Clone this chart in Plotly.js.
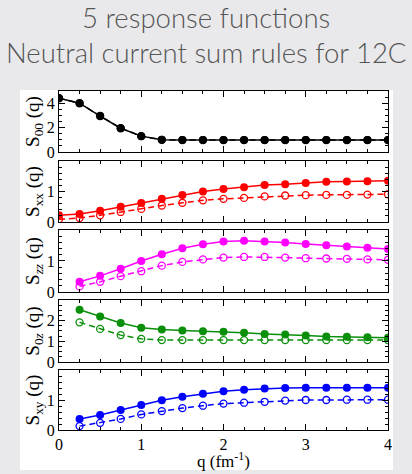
<!DOCTYPE html>
<html><head><meta charset="utf-8">
<script src="https://cdn.plot.ly/plotly-3.0.1.min.js"></script>
<style>html,body{margin:0;padding:0;background:#e9e9eb;}</style>
</head><body><div id="chart" style="width:412px;height:474px;"></div>
<script>
const q = [0,0.25,0.5,0.75,1,1.25,1.5,1.75,2,2.25,2.5,2.75,3,3.25,3.5,3.75,4];
const q1 = [0.25,0.5,0.75,1,1.25,1.5,1.75,2,2.25,2.5,2.75,3,3.25,3.5,3.75,4];

const s00Full = [4.41,4.0,2.95,1.95,1.3,1.0,0.98,0.98,0.98,0.98,0.98,0.98,0.98,0.98,0.98,0.98,0.98];
const s00Free = [4.41,4.0,2.95,1.95,1.3,1.0,0.98,0.98,0.98,0.98,0.98,0.98,0.98,0.98,0.98,0.98,0.98];

const sxxFull = [0.22,0.26,0.37,0.5,0.62,0.76,0.89,1.0,1.08,1.14,1.21,1.24,1.28,1.32,1.33,1.34,1.35];
const sxxFree = [0.09,0.13,0.22,0.33,0.43,0.54,0.63,0.71,0.76,0.79,0.84,0.87,0.88,0.89,0.89,0.9,0.91];

const szzFull = [0.33,0.52,0.75,1.0,1.22,1.41,1.54,1.63,1.65,1.63,1.6,1.55,1.51,1.47,1.43,1.39];
const szzFree = [0.18,0.33,0.51,0.67,0.85,0.97,1.05,1.11,1.13,1.13,1.11,1.09,1.08,1.07,1.05,1.04];

const s0zFull = [2.53,2.2,1.89,1.66,1.57,1.52,1.49,1.46,1.41,1.36,1.33,1.28,1.23,1.22,1.2,1.17];
const s0zFree = [1.92,1.6,1.3,1.12,1.06,1.06,1.06,1.06,1.06,1.06,1.06,1.06,1.06,1.06,1.06,1.06];

const sxyFull = [0.37,0.5,0.67,0.83,0.99,1.11,1.21,1.29,1.34,1.38,1.4,1.41,1.41,1.41,1.41,1.41];
const sxyFree = [0.13,0.24,0.37,0.52,0.63,0.73,0.81,0.88,0.91,0.94,0.98,1.0,1.0,1.01,1.01,1.01];

const yTitles = ['S<sub>00</sub> (q)','S<sub>xx</sub> (q)','S<sub><i>zz</i></sub> (q)','S<sub>0<i>z</i></sub> (q)','S<sub>xy</sub> (q)'];
const colors = ['#000000','#ff0000','#ff00ff','#0a8f0a','#0000ff'];

const panels = [
  {x:q, full:s00Full, free:s00Free},
  {x:q, full:sxxFull, free:sxxFree},
  {x:q1, full:szzFull, free:szzFree},
  {x:q1, full:s0zFull, free:s0zFree},
  {x:q1, full:sxyFull, free:sxyFree}
];
const yRanges = [[0,5],[0,2],[0,2],[0,3],[0,2]];
const yTickVals = [[0,2,4],[0,1],[0,1],[0,1,2],[0,1]];
const yMinor = [0.5,0.2,0.2,0.25,0.2];
const dom = [[0.6793,0.8080],[0.5316,0.6603],[0.3840,0.5148],[0.2363,0.3671],[0.0928,0.2194]];

const serif = 'Liberation Serif, DejaVu Serif, serif';
const titleFont = {family:'Lato, Open Sans, sans-serif',size:27.5,color:'#555555',weight:300};
const traces = [];
const layout = {
  width:412, height:474,
  margin:{l:0,r:0,t:0,b:0},
  paper_bgcolor:'#e9e9eb', plot_bgcolor:'#ffffff',
  showlegend:false,
  shapes:[{type:'rect',xref:'paper',yref:'paper',x0:20/412,x1:393/412,y0:1-470/474,y1:1-90/474,fillcolor:'#ffffff',line:{width:0},layer:'below'}],
  annotations:[
    {text:'5 response functions',xref:'paper',yref:'paper',x:0.5,y:1-17/474,xanchor:'center',yanchor:'middle',showarrow:false,font:titleFont},
    {text:'Neutral current sum rules for 12C',xref:'paper',yref:'paper',x:0.5,y:1-52/474,xanchor:'center',yanchor:'middle',showarrow:false,font:titleFont},
    {text:'q (fm<sup>-1</sup>)',xref:'paper',yref:'paper',x:223.5/412,y:1-460/474,xanchor:'center',yanchor:'middle',showarrow:false,font:{family:serif,size:17,color:'#000'}}
  ]
};

panels.forEach((p,i)=>{
  const n = i+1;
  const xa = 'x'+(n===1?'':n), ya = 'y'+(n===1?'':n);
  traces.push({x:p.x, y:p.free, xaxis:xa, yaxis:ya, mode:'lines+markers',
    line:{color:colors[i],width:1.5,dash:'6px,4px'},
    marker:{symbol:'circle-open',size:7,color:colors[i],line:{width:1.3,color:colors[i]}}});
  traces.push({x:p.x, y:p.full, xaxis:xa, yaxis:ya, mode:'lines+markers',
    line:{color:colors[i],width:1.5},
    marker:{symbol:'circle',size:8,color:colors[i]}});
  const xk = 'xaxis'+(n===1?'':n), yk = 'yaxis'+(n===1?'':n);
  layout[xk] = {
    domain:[59/412,388/412], anchor:ya, range:[0,4],
    showline:true, mirror:'allticks', linecolor:'#000', linewidth:1,
    ticks:'inside', ticklen:6, tickcolor:'#000', dtick:1, tick0:0,
    minor:{ticks:'inside',ticklen:3,dtick:0.25,tickcolor:'#000',showgrid:false},
    showgrid:false, zeroline:false, showticklabels:(n===5),
    tickfont:{family:serif,size:16,color:'#000'}
  };
  layout[yk] = {
    domain:dom[i], anchor:xa, range:yRanges[i],
    showline:true, mirror:'allticks', linecolor:'#000', linewidth:1,
    ticks:'inside', ticklen:6, tickcolor:'#000', tickmode:'array', tickvals:yTickVals[i],
    minor:{ticks:'inside',ticklen:3,dtick:yMinor[i],tick0:0,tickcolor:'#000',showgrid:false},
    showgrid:false, zeroline:false,
    tickfont:{family:serif,size:16,color:'#000'},
    title:{text:yTitles[i],font:{family:serif,size:19,color:'#000'},standoff:2}
  };
});

Plotly.newPlot('chart', traces, layout, {displayModeBar:false, staticPlot:true});
</script></body></html>
